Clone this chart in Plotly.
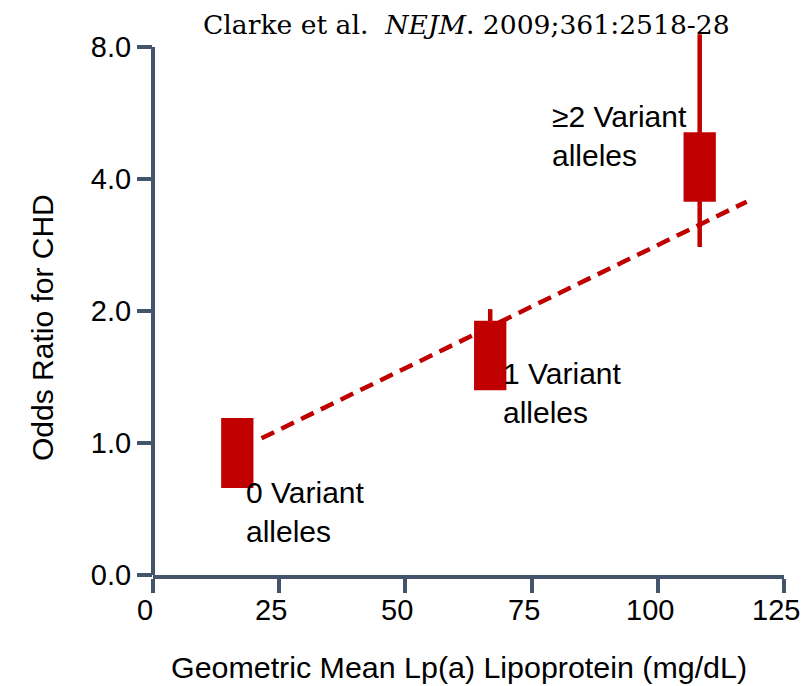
import plotly.graph_objects as go
import math

# ---- data ----
groups = ["0 Variant<br>alleles", "1 Variant<br>alleles", "≥2 Variant<br>alleles"]
lpa_mean = [16.7, 66.8, 108.3]          # geometric mean Lp(a), mg/dL
box_lo = [0.79, 1.32, 3.55]             # box lower edge (odds ratio)
box_hi = [1.14, 1.90, 5.11]             # box upper edge (odds ratio)
ci_lo = [0.79, 1.35, 2.80]              # whisker lower end
ci_hi = [1.14, 2.02, 8.55]              # whisker upper end
trend_x = [21.5, 117.6]
trend_y = [1.025, 3.55]
x_ticks = [0, 25, 50, 75, 100, 125]
y_ticks = [0.5, 1, 2, 4, 8]
y_tick_text = ["0.0", "1.0", "2.0", "4.0", "8.0"]

RED = "#C00000"
AX = "#44546A"
FONT = "Liberation Sans, Arial, sans-serif"

fig = go.Figure()

# dashed trend line
fig.add_trace(go.Scatter(x=trend_x, y=trend_y, mode="lines",
                         line=dict(color=RED, width=4.5, dash="14px,8px"),
                         hoverinfo="skip", showlegend=False))

hw = 3.2  # half box width in x data units
for i in range(len(groups)):
    c = lpa_mean[i]
    fig.add_trace(go.Scatter(x=[c, c], y=[ci_lo[i], ci_hi[i]], mode="lines",
                             line=dict(color=RED, width=4.5),
                             showlegend=False, hoverinfo="skip", cliponaxis=False))
    fig.add_trace(go.Scatter(x=[c - hw, c + hw, c + hw, c - hw, c - hw],
                             y=[box_lo[i], box_lo[i], box_hi[i], box_hi[i], box_lo[i]],
                             mode="lines", fill="toself", fillcolor=RED,
                             line=dict(color=RED, width=0),
                             showlegend=False, hoverinfo="skip"))

# geometry (pixels)
L, R, T, B = 153, 17, 29, 111
W, H = 801, 686
pw, ph = W - L - R, H - T - B
ylog_lo = math.log10(0.5)
px_per_decade = 132 / math.log10(2)
ylog_hi = ylog_lo + ph / px_per_decade


def px2paper(px, py):
    return (px - L) / pw, (H - B - py) / ph


fig.update_layout(
    width=W, height=H,
    margin=dict(l=L, r=R, t=T, b=B, pad=0, autoexpand=False),
    paper_bgcolor="white", plot_bgcolor="white",
    font=dict(family=FONT, size=29, color="black"),
    xaxis=dict(range=[0, 125], tickvals=x_ticks, ticks="outside", ticklen=14,
               tickwidth=4, tickcolor=AX, showline=True, linewidth=4, linecolor=AX,
               showgrid=False, zeroline=False, showticklabels=False, automargin=False),
    yaxis=dict(type="log", range=[ylog_lo, ylog_hi], tickvals=y_ticks,
               ticktext=y_tick_text, ticks="outside", ticklen=15, tickwidth=4,
               tickcolor=AX, showline=False, showgrid=False, zeroline=False,
               tickfont=dict(size=29), automargin=False),
    shapes=[dict(type="line", xref="paper", x0=0, x1=0, yref="y", y0=0.5, y1=8,
                 line=dict(color=AX, width=4), layer="above")],
)

# x tick labels (placed at the axis tick values, nudged left as in the original)
_, lab_y = px2paper(0, 610)
for v in x_ticks:
    fig.add_annotation(x=v, xref="x", y=lab_y, yref="paper", text=str(v),
                       showarrow=False, xanchor="center", yanchor="middle", xshift=-8,
                       font=dict(size=29, family=FONT, color="black"))

# axis titles
xx, xy = px2paper(459, 667)
fig.add_annotation(x=xx, y=xy, xref="paper", yref="paper",
                   text="Geometric Mean Lp(a) Lipoprotein (mg/dL)", showarrow=False,
                   xanchor="center", yanchor="middle", font=dict(size=30.4, family=FONT))
yx, yy = px2paper(42, 328)
fig.add_annotation(x=yx, y=yy, xref="paper", yref="paper", textangle=-90,
                   text="Odds Ratio for CHD", showarrow=False,
                   xanchor="center", yanchor="middle", font=dict(size=30, family=FONT))

ann_px = [(244, 512), (501, 393), (550, 136)]
for i, (ax_, ay_) in enumerate(ann_px):
    px, py = px2paper(ax_, ay_)
    fig.add_annotation(x=px, y=py, xref="paper", yref="paper", text=groups[i],
                       showarrow=False, xanchor="left", yanchor="middle", align="left",
                       font=dict(size=30, family=FONT, color="black"))

tx, ty = px2paper(201, 24)
fig.add_annotation(x=tx, y=ty, xref="paper", yref="paper",
                   text="Clarke et al.  <i>NEJM</i>. 2009;361:2518-28",
                   showarrow=False, xanchor="left", yanchor="middle",
                   font=dict(size=26.6, family="DejaVu Serif, Georgia, serif", color="black"))

# cut-off text at bottom-left (only its top shows, as in the original)
fx, fy = px2paper(-12, 696)
fig.add_annotation(x=fx, y=fy, xref="paper", yref="paper", text="cannot",
                   showarrow=False, xanchor="left", yanchor="middle",
                   font=dict(size=29, family=FONT, color="black"))

fig.write_html("out.html")
